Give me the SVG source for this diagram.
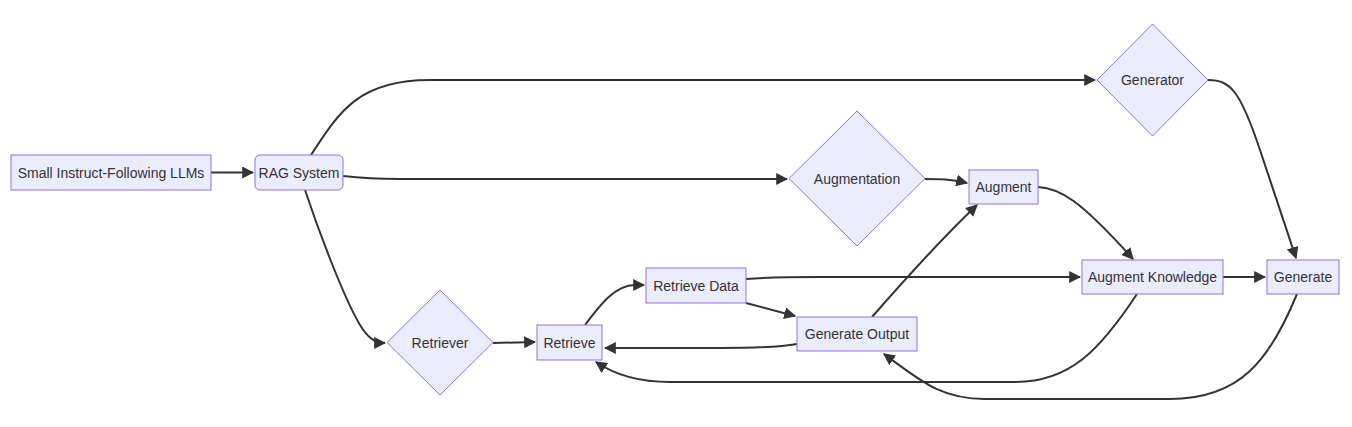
<svg xmlns="http://www.w3.org/2000/svg" width="1352" height="427" viewBox="0 0 1352 427">
<style>
.n{fill:#ECECFF;stroke:#9370DB;stroke-width:1px}
.t{font-family:"Liberation Sans",Arial,sans-serif;font-size:14px;fill:#333;text-anchor:middle;dominant-baseline:central}
.e{fill:none;stroke:#333;stroke-width:2px;marker-end:url(#arr)}
</style>
<defs>
<marker id="arr" markerUnits="userSpaceOnUse" markerWidth="12" markerHeight="12" viewBox="0 0 10 10" refX="9" refY="5" orient="auto">
<path d="M0,0 L10,5 L0,10 z" fill="#333"/>
</marker>
</defs>
<rect width="1352" height="427" fill="#fff"/>
<g id="connectors">
<path class="e" d="M211,172.5 L253,172.5"/>
<path class="e" d="M311,155 C340,110 360,80 430,80 L1095,80"/>
<path class="e" d="M343,176 C360,178 370,179 400,179 L787,179"/>
<path class="e" d="M305,190 C320,235 345,300 360,325 C368,338 375,343 385,343"/>
<path class="e" d="M493,343 L535,342"/>
<path class="e" d="M585,325 C600,305 615,285 635,285 L644,285"/>
<path class="e" d="M746,279 C770,277 790,277 820,277 L1080,277"/>
<path class="e" d="M746,303 L795,316"/>
<path class="e" d="M797,344 C780,347 760,348 720,348 L605,348"/>
<path class="e" d="M872,317 C900,285 940,240 977,205"/>
<path class="e" d="M1038,187 C1060,188 1080,200 1133,259"/>
<path class="e" d="M925,179 C940,179 950,179 967,183"/>
<path class="e" d="M1208,80 C1230,80 1240,90 1260,150 L1296,258"/>
<path class="e" d="M1223,277 L1265,277"/>
<path class="e" d="M1137,294 C1100,350 1070,382 1015,382 L670,382 C640,382 615,375 596,362"/>
<path class="e" d="M1297,294 C1270,360 1240,399 1170,399 L985,399 C940,399 920,380 884,354"/>
</g>
<g id="llms"><rect class="n" x="11" y="155" width="200" height="35"/><text class="t" x="111" y="172.5">Small Instruct-Following LLMs</text></g>
<g id="rag"><rect class="n" x="255" y="155" width="88" height="35" rx="5"/><text class="t" x="299" y="172.5">RAG System</text></g>
<g id="retriever"><polygon class="n" points="440,290 493,342.5 440,395 387,342.5"/><text class="t" x="440" y="342.5">Retriever</text></g>
<g id="retrieve"><rect class="n" x="537" y="325" width="65" height="35"/><text class="t" x="569.5" y="342.5">Retrieve</text></g>
<g id="retrievedata"><rect class="n" x="646" y="268" width="100" height="35"/><text class="t" x="696" y="285.5">Retrieve Data</text></g>
<g id="genout"><rect class="n" x="797" y="317" width="120" height="34"/><text class="t" x="857" y="334">Generate Output</text></g>
<g id="augmentation"><polygon class="n" points="857,111 925,178.5 857,246 789,178.5"/><text class="t" x="857" y="178.5">Augmentation</text></g>
<g id="augment"><rect class="n" x="969" y="170" width="69" height="34"/><text class="t" x="1003.5" y="187">Augment</text></g>
<g id="generator"><polygon class="n" points="1152.5,24 1208,80 1152.5,136 1097,80"/><text class="t" x="1152.5" y="80">Generator</text></g>
<g id="augknow"><rect class="n" x="1082" y="260" width="141" height="34"/><text class="t" x="1152.5" y="277">Augment Knowledge</text></g>
<g id="generate"><rect class="n" x="1267" y="260" width="72" height="34"/><text class="t" x="1303" y="277">Generate</text></g>
</svg>
